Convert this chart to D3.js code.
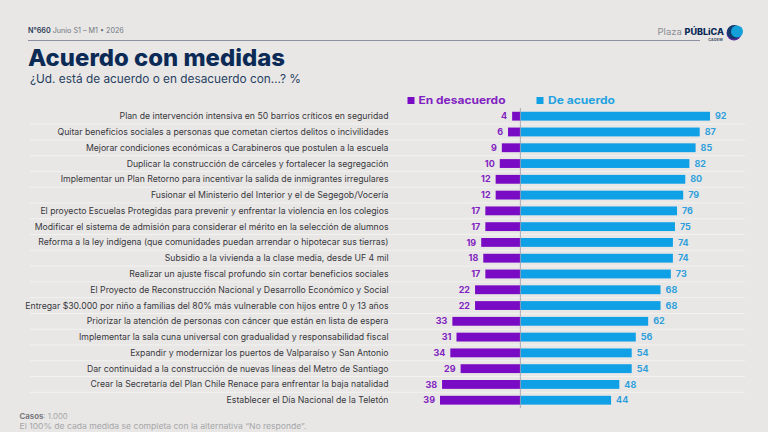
<!DOCTYPE html>
<html lang="es">
<head>
<meta charset="utf-8">
<script src="https://cdn.jsdelivr.net/npm/d3@7"></script>
<style>
html,body{margin:0;padding:0;background:#e8e7e6;}
svg{display:block;font-family:Inter,"Noto Sans",sans-serif;}
</style>
</head>
<body>
<svg id="chart" width="768" height="432"></svg>
<script>
const medidas = [
  "Plan de intervención intensiva en 50 barrios críticos en seguridad",
  "Quitar beneficios sociales a personas que cometan ciertos delitos o incivilidades",
  "Mejorar condiciones económicas a Carabineros que postulen a la escuela",
  "Duplicar la construcción de cárceles y fortalecer la segregación",
  "Implementar un Plan Retorno para incentivar la salida de inmigrantes irregulares",
  "Fusionar el Ministerio del Interior y el de Segegob/Vocería",
  "El proyecto Escuelas Protegidas para prevenir y enfrentar la violencia en los colegios",
  "Modificar el sistema de admisión para considerar el mérito en la selección de alumnos",
  "Reforma a la ley indígena (que comunidades puedan arrendar o hipotecar sus tierras)",
  "Subsidio a la vivienda a la clase media, desde UF 4 mil",
  "Realizar un ajuste fiscal profundo sin cortar beneficios sociales",
  "El Proyecto de Reconstrucción Nacional y Desarrollo Económico y Social",
  "Entregar $30.000 por niño a familias del 80% más vulnerable con hijos entre 0 y 13 años",
  "Priorizar la atención de personas con cáncer que están en lista de espera",
  "Implementar la sala cuna universal con gradualidad y responsabilidad fiscal",
  "Expandir y modernizar los puertos de Valparaíso y San Antonio",
  "Dar continuidad a la construcción de nuevas líneas del Metro de Santiago",
  "Crear la Secretaría del Plan Chile Renace para enfrentar la baja natalidad",
  "Establecer el Día Nacional de la Teletón"
];
const enDesacuerdo = [4, 6, 9, 10, 12, 12, 17, 17, 19, 18, 17, 22, 22, 33, 31, 34, 29, 38, 39];
const deAcuerdo = [92, 87, 85, 82, 80, 79, 76, 75, 74, 74, 73, 68, 68, 62, 56, 54, 54, 48, 44];

const NAVY = "#0b2a55", PURPLE = "#7a0bc4", BLUE = "#0fa0e6";
const PURPLE_TEXT = "#8122c0", BLUE_TEXT = "#2f9fdb";

const svg = d3.select("#chart");

// Diverging scale centred on the zero line
const x = d3.scaleLinear().domain([-39, 92]).range([440, 710]);
const y = d3.scaleBand().domain(d3.range(medidas.length)).range([108.3, 408.1]).paddingInner(0.44).paddingOuter(0.22);
const rowCenter = i => y(i) + y.bandwidth() / 2;
const rowStep = y.step();

// Header
svg.append("line").attr("x1", 28).attr("x2", 700).attr("y1", 40.5).attr("y2", 40.5)
  .attr("stroke", "#8d90a0").attr("stroke-width", 1);
const meta = svg.append("text").attr("x", 28).attr("y", 33).attr("font-size", 7.2);
meta.append("tspan").attr("font-weight", 600).attr("fill", "#2b3a55").text("N°660");
meta.append("tspan").attr("fill", "#707680").text(" Junio S1 – M1 • 2026");

svg.append("text").attr("x", 28).attr("y", 66).attr("font-size", 23.5).attr("font-weight", 800)
  .attr("fill", NAVY).attr("textLength", 257).attr("lengthAdjust", "spacingAndGlyphs").text("Acuerdo con medidas");
svg.append("text").attr("x", 30).attr("y", 83).attr("font-size", 11.5)
  .attr("fill", "#27405f").attr("textLength", 271).attr("lengthAdjust", "spacingAndGlyphs")
  .text("¿Ud. está de acuerdo o en desacuerdo con…? %");

// Brand mark
svg.append("text").attr("x", 657.5).attr("y", 35).attr("font-size", 8.6).attr("fill", "#8a8d94")
  .attr("textLength", 24.5).attr("lengthAdjust", "spacingAndGlyphs").text("Plaza");
svg.append("text").attr("x", 684.5).attr("y", 35).attr("font-size", 8.4).attr("font-weight", 800)
  .attr("fill", NAVY).attr("textLength", 39.5).attr("lengthAdjust", "spacingAndGlyphs").text("PÚBLiCA");
svg.append("text").attr("x", 723).attr("y", 41).attr("text-anchor", "end").attr("font-size", 3.6)
  .attr("font-weight", 700).attr("fill", "#3f4f68").attr("letter-spacing", 0.3).text("CADEM");
svg.append("circle").attr("cx", 734).attr("cy", 33).attr("r", 7.5).attr("fill", "#5a2a9a");
svg.append("circle").attr("cx", 734).attr("cy", 32).attr("r", 7).attr("fill", "#123a6a");
svg.append("circle").attr("cx", 737).attr("cy", 31.5).attr("r", 6).attr("fill", "#14a0d8");

// Legend
const legend = [
  {label: "En desacuerdo", px: 407.5, tx: 418.5, w: 87, square: PURPLE, color: PURPLE_TEXT},
  {label: "De acuerdo", px: 536.5, tx: 548, w: 67, square: BLUE, color: "#22a2e0"}
];
const lg = svg.selectAll("g.legend").data(legend).join("g").attr("class", "legend");
lg.append("rect").attr("x", d => d.px).attr("y", 97).attr("width", 7).attr("height", 7).attr("fill", d => d.square);
lg.append("text").attr("x", d => d.tx).attr("y", 104).attr("font-size", 10.5).attr("font-weight", 700)
  .attr("fill", d => d.color).attr("textLength", d => d.w).attr("lengthAdjust", "spacingAndGlyphs").text(d => d.label);

// Row separators
svg.append("g").selectAll("line").data(d3.range(medidas.length - 1)).join("line")
  .attr("x1", 30).attr("x2", 745)
  .attr("y1", i => rowCenter(i) + rowStep / 2).attr("y2", i => rowCenter(i) + rowStep / 2)
  .attr("stroke", "#f2f2f1").attr("stroke-width", 1);

// Row labels
svg.append("g").selectAll("text").data(medidas).join("text")
  .attr("x", 388.5).attr("y", (d, i) => rowCenter(i)).attr("dy", "0.35em")
  .attr("text-anchor", "end").attr("font-size", 8.7).attr("fill", "#38383c").text(d => d);

// Bars
svg.append("g").selectAll("rect").data(enDesacuerdo).join("rect")
  .attr("x", d => x(-d)).attr("y", (d, i) => y(i))
  .attr("width", d => x(0) - x(-d)).attr("height", y.bandwidth()).attr("fill", PURPLE);
svg.append("g").selectAll("rect").data(deAcuerdo).join("rect")
  .attr("x", x(0)).attr("y", (d, i) => y(i))
  .attr("width", d => x(d) - x(0)).attr("height", y.bandwidth()).attr("fill", BLUE);

// Zero line
svg.append("line").attr("x1", x(0)).attr("x2", x(0)).attr("y1", 108).attr("y2", 408)
  .attr("stroke", "#9a9aa6").attr("stroke-width", 0.8);

// Value labels
svg.append("g").selectAll("text").data(enDesacuerdo).join("text")
  .attr("x", d => x(-d) - 5).attr("y", (d, i) => rowCenter(i)).attr("dy", "0.35em")
  .attr("text-anchor", "end").attr("font-size", 9).attr("font-weight", 700).attr("fill", PURPLE_TEXT).text(d => d);
svg.append("g").selectAll("text").data(deAcuerdo).join("text")
  .attr("x", d => x(d) + 5).attr("y", (d, i) => rowCenter(i)).attr("dy", "0.35em")
  .attr("font-size", 9).attr("font-weight", 700).attr("fill", BLUE_TEXT).text(d => d);

// Footnotes
const casos = svg.append("text").attr("x", 19.5).attr("y", 419).attr("font-size", 7.8);
casos.append("tspan").attr("font-weight", 700).attr("fill", "#7a7a7e").text("Casos");
casos.append("tspan").attr("fill", "#a6a6a8").text(": 1.000");
svg.append("text").attr("x", 19.5).attr("y", 429).attr("font-size", 7.8).attr("fill", "#a6a6a8")
  .attr("textLength", 287).attr("lengthAdjust", "spacingAndGlyphs")
  .text("El 100% de cada medida se completa con la alternativa “No responde”.");
</script>
</body>
</html>
